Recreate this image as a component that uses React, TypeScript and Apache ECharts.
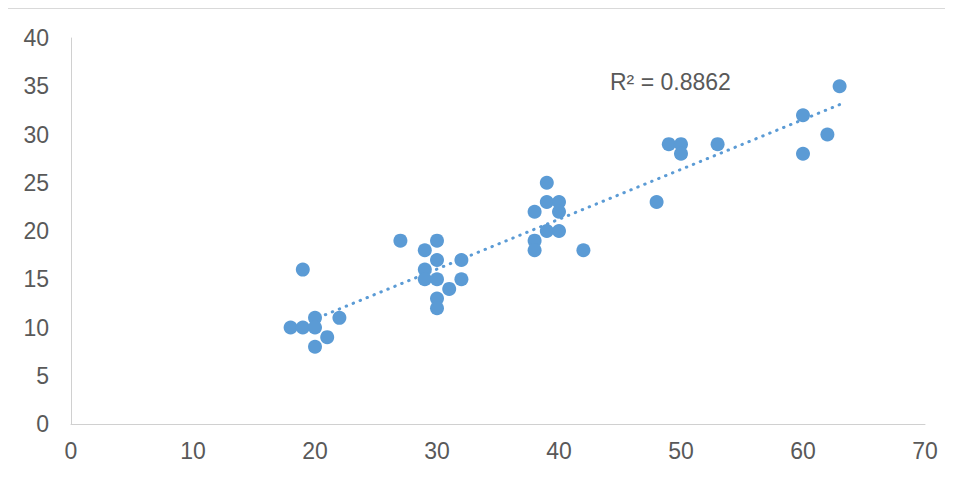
import React, { useEffect, useRef } from "react";
import * as echarts from "echarts";

const xValues = [18, 19, 19, 20, 20, 20, 21, 22, 27, 29, 29, 29, 30, 30, 30, 30, 30, 31, 32, 32, 38, 38, 38, 39, 39, 39, 40, 40, 40, 42, 48, 49, 50, 50, 53, 60, 60, 62, 63];
const yValues = [10, 10, 16, 11, 10, 8, 9, 11, 19, 18, 16, 15, 19, 17, 15, 13, 12, 14, 17, 15, 22, 19, 18, 25, 23, 20, 23, 22, 20, 18, 23, 29, 29, 28, 29, 32, 28, 30, 35];
const rSquaredLabel = "R² = 0.8862";
const xTicks = { min: 0, max: 70, interval: 10 };
const yTicks = { min: 0, max: 40, interval: 5 };

const BLUE = "#5b9bd5";
const TEXT = "#595959";
const FONT = "'Liberation Sans', Arial, sans-serif";

function fitLine(xs: number[], ys: number[]) {
  const n = xs.length;
  const mx = xs.reduce((a, b) => a + b, 0) / n;
  const my = ys.reduce((a, b) => a + b, 0) / n;
  let sxy = 0;
  let sxx = 0;
  for (let i = 0; i < n; i++) {
    sxy += (xs[i] - mx) * (ys[i] - my);
    sxx += (xs[i] - mx) * (xs[i] - mx);
  }
  const slope = sxy / sxx;
  const intercept = my - slope * mx;
  const x0 = Math.min(...xs);
  const x1 = Math.max(...xs);
  return [
    [x0, intercept + slope * x0],
    [x1, intercept + slope * x1],
  ];
}

export default function App() {
  const ref = useRef<HTMLDivElement>(null);
  useEffect(() => {
    if (!ref.current) return;
    const chart = echarts.init(ref.current, undefined, { renderer: "svg" });
    const points = xValues.map((x, i) => [x, yValues[i]]);
    const trend = fitLine(xValues, yValues);
    chart.setOption({
      animation: false,
      grid: { left: 63, top: 29, right: 28, bottom: 53, containLabel: false },
      xAxis: {
        type: "value",
        min: xTicks.min,
        max: xTicks.max,
        interval: xTicks.interval,
        splitLine: { show: false },
        axisTick: { show: false },
        axisLine: { show: true, lineStyle: { color: "#d0d0d0", width: 1 } },
        axisLabel: { color: TEXT, fontSize: 23, fontFamily: FONT, margin: 15 },
      },
      yAxis: {
        type: "value",
        min: yTicks.min,
        max: yTicks.max,
        interval: yTicks.interval,
        splitLine: { show: false },
        axisTick: { show: false },
        axisLine: { show: true, lineStyle: { color: "#d0d0d0", width: 1 } },
        axisLabel: { color: TEXT, fontSize: 23, fontFamily: FONT, margin: 22 },
      },
      series: [
        {
          type: "line",
          data: trend,
          symbol: "none",
          silent: true,
          z: 1,
          lineStyle: { color: BLUE, width: 3, type: [0.5, 7], cap: "round" },
        },
        {
          type: "scatter",
          data: points,
          symbol: "circle",
          symbolSize: 14,
          z: 2,
          itemStyle: { color: BLUE, opacity: 1 },
        },
      ],
      graphic: [
        {
          type: "text",
          left: 602,
          top: 61,
          style: { text: rSquaredLabel, fill: TEXT, font: `23px ${FONT}` },
        },
      ],
    });
    return () => chart.dispose();
  }, []);
  return (
    <div
      style={{
        position: "relative",
        width: 946,
        height: 469,
        marginLeft: -1,
        boxSizing: "border-box",
        borderTop: "1px solid #d9d9d9",
        borderLeft: "1px solid #d9d9d9",
        fontFamily: FONT,
      }}
    >
      <div ref={ref} style={{ position: "absolute", left: 0, top: 0, width: 945, height: 468 }} />
    </div>
  );
}
